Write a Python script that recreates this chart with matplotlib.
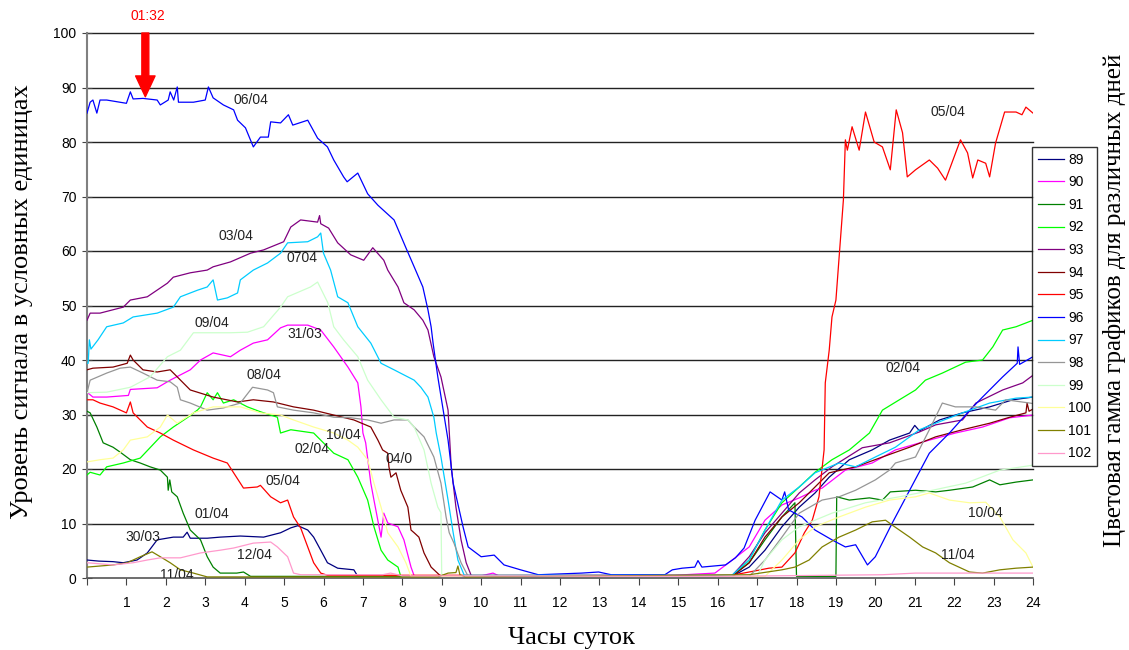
import numpy as np
import matplotlib.pyplot as plt

plt.rcParams['font.family'] = ['Liberation Sans', 'DejaVu Sans']

# (hour, level) points, one list per day series
s89 = [(0, 3.3), (0.3, 3.1), (0.66, 3.0), (0.92, 2.8), (1.27, 3.3), (1.53, 4.6), (1.78, 7.0), (2.19, 7.5),
       (2.44, 7.5), (2.54, 8.4), (2.62, 7.3), (3.05, 7.3), (3.38, 7.5), (3.89, 7.7), (4.48, 7.5), (4.91, 8.3),
       (5.17, 9.2), (5.35, 9.6), (5.6, 8.8), (5.75, 7.5), (5.93, 5.1), (6.1, 2.8), (6.36, 1.8), (6.77, 1.5),
       (6.87, 0.3), (12.0, 0.3), (16.36, 0.3), (16.8, 2.0), (17.2, 5.1), (17.63, 9.4), (18.07, 13.0),
       (18.47, 15.6), (18.83, 18.5), (19.34, 21.7), (19.92, 23.5), (20.36, 25.3), (20.87, 26.6), (21.0, 28.0),
       (21.12, 27.0), (21.63, 29.0), (22.21, 30.3), (22.9, 31.4), (23.49, 32.7), (24.0, 33.2)]
s90 = [(0, 34.1), (0.15, 33.2), (0.5, 33.2), (1.05, 33.5), (1.1, 34.6), (1.78, 34.9), (2.11, 36.3), (2.62, 38.2),
       (2.88, 40.0), (3.2, 41.3), (3.64, 40.6), (3.89, 41.8), (4.22, 43.1), (4.58, 43.7), (4.91, 45.9),
       (5.09, 46.4), (5.6, 46.4), (5.93, 45.5), (6.26, 42.4), (6.62, 38.7), (6.87, 35.8), (6.95, 31.4),
       (7.0, 26.6), (7.07, 24.8), (7.2, 17.4), (7.28, 14.3), (7.46, 7.5), (7.53, 11.9), (7.63, 10.1),
       (7.89, 9.4), (8.04, 7.0), (8.22, 2.0), (8.3, 0.4), (10.0, 0.4), (10.3, 0.9), (10.45, 0.4), (14.9, 0.5),
       (15.93, 0.9), (16.28, 2.8), (16.8, 5.7), (17.2, 10.6), (17.63, 13.4), (18.07, 14.7), (18.47, 16.1),
       (18.65, 16.5), (19.24, 19.8), (19.92, 21.1), (20.51, 23.5), (21.37, 25.3), (22.03, 26.6), (22.72, 27.7),
       (23.41, 29.4), (24.0, 29.9)]
s91 = [(0, 30.6), (0.08, 30.3), (0.25, 27.7), (0.41, 24.8), (0.66, 24.0), (0.84, 23.1), (1.1, 21.7),
       (1.35, 21.1), (1.6, 20.4), (1.86, 19.8), (2.04, 18.5), (2.06, 16.1), (2.1, 18.0), (2.15, 15.8),
       (2.29, 14.9), (2.44, 11.9), (2.62, 8.8), (2.88, 7.0), (3.05, 3.9), (3.2, 2.0), (3.38, 0.9), (3.8, 0.9),
       (3.97, 1.1), (4.15, 0.3), (16.36, 0.3), (16.8, 2.8), (17.2, 7.0), (17.63, 11.2), (17.96, 13.8),
       (18.0, 0.3), (19.0, 0.3), (19.02, 14.9), (19.34, 14.3), (19.85, 14.7), (20.18, 14.3), (20.38, 15.8),
       (21.02, 16.1), (21.53, 15.8), (21.88, 16.1), (22.47, 16.7), (22.9, 18.0), (23.16, 17.1), (23.57, 17.6),
       (24.0, 18.0)]
s92 = [(0, 18.9), (0.08, 19.4), (0.33, 18.9), (0.5, 20.4), (0.92, 21.1), (1.35, 22.0), (1.86, 25.9),
       (2.19, 27.7), (2.54, 29.4), (2.8, 30.8), (2.88, 31.4), (3.05, 34.0), (3.2, 32.7), (3.31, 34.0),
       (3.46, 32.1), (3.72, 32.7), (4.07, 31.4), (4.4, 30.5), (4.83, 29.5), (4.91, 26.6), (5.17, 27.2),
       (5.75, 26.6), (6.26, 22.9), (6.62, 21.7), (6.87, 18.5), (7.12, 14.3), (7.28, 9.4), (7.46, 5.1),
       (7.63, 3.3), (7.89, 2.0), (7.96, 0.3), (16.36, 0.3), (16.8, 3.3), (17.2, 8.8), (17.63, 13.8),
       (18.07, 16.7), (18.47, 19.4), (18.9, 21.7), (19.34, 23.5), (19.85, 26.6), (20.18, 30.8), (20.61, 32.7),
       (21.02, 34.5), (21.27, 36.3), (21.7, 37.6), (22.29, 39.6), (22.72, 40.0), (22.98, 42.4), (23.23, 45.5),
       (23.57, 46.1), (24.0, 47.3)]
s93 = [(0, 47.3), (0.08, 48.6), (0.33, 48.6), (0.92, 49.7), (1.1, 51.0), (1.53, 51.6), (2.04, 54.1),
       (2.19, 55.2), (2.62, 56.0), (3.05, 56.5), (3.2, 57.1), (3.64, 58.0), (4.15, 59.6), (4.48, 60.2),
       (4.99, 61.7), (5.17, 64.4), (5.42, 65.7), (5.85, 65.3), (5.9, 66.5), (5.93, 65.0), (6.13, 64.2),
       (6.36, 61.5), (6.69, 59.3), (7.02, 58.3), (7.25, 60.6), (7.53, 58.3), (7.63, 56.5), (7.89, 53.4),
       (8.04, 50.5), (8.3, 49.2), (8.52, 47.3), (8.65, 45.5), (8.8, 40.6), (8.98, 36.9), (9.16, 30.8),
       (9.24, 20.4), (9.36, 13.0), (9.49, 7.0), (9.62, 2.8), (9.75, 0.4), (16.36, 0.4), (16.8, 3.9),
       (17.2, 8.3), (17.63, 11.9), (18.07, 15.6), (18.47, 18.0), (18.9, 20.4), (19.67, 23.9), (20.36, 24.8),
       (21.12, 26.8), (21.53, 28.1), (22.21, 29.0), (22.55, 32.1), (23.23, 34.5), (23.74, 35.8), (24.0, 37.2)]
s94 = [(0, 38.2), (0.15, 38.5), (0.66, 38.7), (1.02, 39.4), (1.1, 40.9), (1.17, 40.0), (1.42, 38.2),
       (1.78, 37.8), (2.11, 38.2), (2.29, 36.9), (2.62, 34.5), (3.2, 33.2), (3.82, 32.3), (4.22, 32.7),
       (4.73, 32.3), (5.24, 31.4), (5.75, 30.8), (6.26, 29.9), (6.77, 29.0), (7.2, 27.7), (7.38, 25.3),
       (7.5, 23.5), (7.63, 22.9), (7.66, 20.4), (7.71, 18.5), (7.84, 19.3), (7.96, 16.1), (8.14, 13.0),
       (8.22, 8.8), (8.3, 8.3), (8.42, 7.5), (8.55, 4.6), (8.73, 2.0), (8.98, 0.3), (16.36, 0.3), (16.8, 2.8),
       (17.2, 7.5), (17.63, 11.2), (18.07, 13.8), (18.47, 16.7), (18.83, 19.3), (19.5, 20.4), (20.18, 22.2),
       (20.87, 24.0), (21.53, 25.9), (22.21, 27.2), (22.9, 28.4), (23.41, 29.5), (23.82, 30.3), (23.85, 32.1),
       (23.9, 30.6), (24.0, 31.0)]
s95 = [(0, 32.7), (0.15, 32.7), (0.33, 32.1), (0.66, 31.4), (1.0, 30.3), (1.1, 32.3), (1.17, 30.3),
       (1.53, 27.7), (1.86, 26.6), (2.19, 25.3), (2.7, 23.5), (3.2, 22.0), (3.56, 21.1), (3.72, 19.3),
       (3.97, 16.5), (4.32, 16.7), (4.4, 17.0), (4.66, 14.9), (4.91, 13.8), (5.09, 14.3), (5.24, 11.2),
       (5.42, 9.2), (5.6, 5.7), (5.75, 2.8), (5.93, 0.9), (6.1, 0.5), (16.36, 0.5), (16.8, 1.1), (17.3, 1.8),
       (17.63, 2.0), (17.96, 4.6), (18.2, 8.3), (18.4, 10.6), (18.57, 14.9), (18.7, 23.5), (18.73, 35.8),
       (18.83, 41.8), (18.9, 47.9), (19.0, 51.0), (19.19, 69.4), (19.24, 80.4), (19.29, 78.5), (19.41, 82.8),
       (19.59, 78.5), (19.75, 85.5), (19.97, 80.0), (20.18, 79.1), (20.38, 74.9), (20.53, 85.9), (20.69, 81.7),
       (20.81, 73.6), (21.02, 74.9), (21.37, 76.7), (21.58, 75.2), (21.78, 73.0), (22.16, 80.4), (22.34, 78.0),
       (22.47, 73.4), (22.6, 76.7), (22.8, 76.1), (22.9, 73.6), (23.05, 79.8), (23.28, 85.5), (23.57, 85.5),
       (23.72, 85.0), (23.82, 86.4), (24.0, 85.3)]
s96 = [(0, 85.3), (0.08, 87.3), (0.15, 87.7), (0.25, 85.3), (0.33, 87.7), (0.5, 87.7), (1.0, 87.1),
       (1.1, 89.2), (1.17, 87.9), (1.42, 88.0), (1.78, 87.7), (1.86, 86.8), (2.06, 87.7), (2.11, 89.2),
       (2.2, 87.7), (2.29, 90.1), (2.32, 87.3), (2.7, 87.3), (3.0, 87.7), (3.08, 90.1), (3.2, 88.1),
       (3.46, 86.8), (3.72, 85.9), (3.82, 84.0), (4.02, 82.6), (4.22, 79.1), (4.4, 80.9), (4.6, 80.9),
       (4.66, 83.7), (4.91, 83.5), (5.11, 85.0), (5.22, 83.1), (5.6, 84.0), (5.85, 80.7), (6.1, 79.1),
       (6.26, 76.7), (6.51, 73.6), (6.6, 72.7), (6.87, 74.3), (7.12, 70.5), (7.38, 68.4), (7.79, 65.7),
       (8.09, 60.6), (8.3, 57.1), (8.52, 53.4), (8.65, 49.2), (8.73, 46.1), (8.78, 43.1), (8.9, 36.9),
       (9.16, 25.3), (9.29, 17.4), (9.54, 9.4), (9.67, 5.7), (10.0, 3.9), (10.33, 4.2), (10.58, 2.4),
       (11.0, 1.5), (11.45, 0.6), (12.55, 0.9), (12.98, 1.1), (13.3, 0.6), (14.66, 0.6), (14.85, 1.5),
       (15.1, 1.8), (15.42, 2.0), (15.5, 3.2), (15.6, 2.0), (16.2, 2.4), (16.45, 3.7), (16.67, 5.5),
       (16.95, 10.6), (17.33, 15.8), (17.63, 14.3), (17.7, 15.8), (17.8, 12.5), (18.14, 11.2), (18.47, 8.8),
       (18.9, 7.0), (19.24, 5.7), (19.5, 6.1), (19.8, 2.4), (20.0, 3.9), (20.43, 10.1), (20.87, 16.1),
       (21.37, 22.9), (21.88, 26.6), (22.4, 30.8), (22.72, 33.2), (23.23, 36.9), (23.6, 39.4), (23.62, 42.4),
       (23.66, 39.2), (24.0, 40.6)]
s97 = [(0, 39.4), (0.03, 39.4), (0.06, 43.7), (0.1, 42.0), (0.28, 43.7), (0.5, 46.1), (0.92, 46.8),
       (1.17, 47.9), (1.78, 48.6), (2.19, 49.7), (2.37, 51.6), (2.8, 52.8), (3.05, 53.4), (3.2, 54.7),
       (3.31, 51.0), (3.56, 51.4), (3.82, 52.3), (3.89, 54.7), (4.22, 56.5), (4.58, 57.8), (4.91, 59.6),
       (5.09, 61.5), (5.6, 61.7), (5.85, 62.6), (5.93, 63.3), (6.0, 59.6), (6.18, 56.5), (6.36, 51.6),
       (6.62, 50.5), (6.87, 46.1), (7.2, 43.1), (7.46, 39.4), (7.79, 38.2), (8.3, 36.3), (8.47, 35.0),
       (8.65, 33.2), (8.8, 29.5), (8.86, 26.6), (8.98, 22.2), (9.16, 14.3), (9.29, 8.3), (9.41, 3.3),
       (9.57, 0.5), (16.36, 0.5), (16.8, 3.3), (17.2, 8.8), (17.63, 14.3), (18.07, 16.7), (18.47, 19.3),
       (19.08, 21.1), (19.5, 20.4), (20.0, 22.2), (20.51, 24.0), (21.12, 27.2), (21.53, 28.4), (22.21, 30.3),
       (22.9, 32.1), (23.57, 33.0), (24.0, 33.2)]
s98 = [(0, 34.0), (0.08, 36.3), (0.5, 37.6), (0.84, 38.5), (1.1, 38.7), (1.42, 37.6), (1.78, 36.3),
       (2.11, 36.0), (2.29, 35.0), (2.37, 32.7), (2.62, 32.1), (3.05, 30.8), (3.46, 31.2), (3.89, 32.1),
       (4.2, 35.0), (4.58, 34.5), (4.73, 34.0), (4.83, 31.4), (5.24, 30.8), (5.75, 30.3), (6.26, 29.5),
       (6.69, 29.4), (7.12, 29.0), (7.46, 28.4), (7.79, 29.0), (8.14, 29.0), (8.3, 27.7), (8.55, 25.9),
       (8.8, 22.2), (8.98, 17.4), (9.11, 11.2), (9.19, 8.3), (9.31, 6.4), (9.49, 2.8), (9.67, 0.3), (16.8, 0.3),
       (17.2, 3.3), (17.63, 7.5), (18.07, 11.9), (18.65, 14.3), (19.08, 14.9), (19.5, 16.1), (20.0, 18.0),
       (20.36, 19.8), (20.51, 21.1), (21.02, 22.2), (21.37, 27.2), (21.7, 32.1), (22.03, 31.4), (22.55, 31.4),
       (23.05, 30.8), (23.31, 32.7), (23.92, 32.1), (24.0, 32.0)]
s99 = [(0, 34.0), (0.5, 34.1), (1.1, 35.0), (1.6, 36.9), (2.04, 40.6), (2.37, 41.8), (2.7, 45.0), (3.2, 45.0),
       (3.64, 45.0), (4.07, 45.1), (4.48, 46.1), (4.91, 49.7), (5.09, 51.6), (5.67, 53.4), (5.85, 54.3),
       (6.11, 50.5), (6.26, 46.1), (6.51, 43.7), (6.87, 40.6), (7.12, 36.3), (7.46, 32.7), (7.79, 29.5),
       (8.14, 29.0), (8.3, 27.7), (8.55, 23.5), (8.73, 17.4), (8.9, 13.0), (8.98, 12.0), (9.0, 0.3), (17.0, 0.3),
       (17.2, 3.3), (17.63, 7.0), (18.07, 9.4), (18.9, 11.9), (19.75, 13.8), (20.61, 14.9), (21.45, 16.1),
       (22.29, 17.4), (23.16, 19.8), (24.0, 20.7)]
s100 = [(0, 21.3), (0.33, 21.7), (0.66, 22.0), (0.92, 23.5), (1.1, 25.3), (1.53, 25.9), (1.86, 27.7),
        (2.04, 29.9), (2.29, 28.4), (2.7, 30.3), (3.2, 31.4), (3.46, 31.4), (3.89, 31.4), (4.4, 30.3),
        (4.91, 29.9), (5.24, 29.0), (5.75, 27.7), (6.26, 26.6), (6.62, 25.3), (6.87, 24.0), (7.12, 21.7),
        (7.28, 17.4), (7.46, 13.0), (7.63, 8.3), (7.89, 5.7), (8.09, 2.8), (8.22, 0.3), (17.2, 0.3),
        (17.63, 3.3), (18.07, 7.0), (18.47, 9.4), (19.08, 11.2), (19.75, 13.0), (20.36, 14.3), (21.02, 14.9),
        (21.37, 15.6), (21.88, 14.3), (22.39, 13.8), (22.8, 13.9), (23.16, 11.2), (23.49, 7.0), (23.82, 4.6),
        (24.0, 2.0)]
s101 = [(0, 2.0), (0.66, 2.4), (1.02, 2.8), (1.35, 3.9), (1.65, 4.8), (1.86, 3.9), (2.11, 2.8), (2.37, 1.5),
        (2.7, 0.9), (3.05, 0.2), (8.9, 0.2), (9.16, 0.9), (9.36, 1.0), (9.41, 2.2), (9.46, 0.6), (9.6, 0.2),
        (16.8, 0.6), (17.63, 1.5), (17.96, 2.0), (18.32, 3.3), (18.65, 5.7), (19.08, 7.5), (19.5, 8.8),
        (19.92, 10.3), (20.26, 10.6), (20.43, 9.7), (20.87, 7.5), (21.2, 5.7), (21.53, 4.6), (21.88, 2.8),
        (22.39, 1.1), (22.72, 0.9), (23.16, 1.5), (23.57, 1.8), (24.0, 2.0)]
s102 = [(0, 2.8), (0.66, 2.4), (1.17, 2.8), (1.53, 3.3), (1.86, 3.7), (2.37, 3.7), (2.88, 4.6), (3.38, 5.1),
        (3.72, 5.5), (4.22, 6.4), (4.66, 6.6), (4.83, 5.7), (5.09, 3.9), (5.24, 0.9), (5.42, 0.6), (7.5, 0.6),
        (7.7, 0.9), (8.0, 0.4), (16.0, 0.3), (20.18, 0.6), (21.02, 0.9), (22.0, 0.9), (24.0, 0.9)]

series_names = ['89', '90', '91', '92', '93', '94', '95', '96', '97', '98', '99', '100', '101', '102']
series_data = [s89, s90, s91, s92, s93, s94, s95, s96, s97, s98, s99, s100, s101, s102]
series_colors = ['#000080', '#FF00FF', '#008000', '#00FF00', '#800080', '#800000', '#FF0000',
                 '#0000FF', '#00CCFF', '#969696', '#CCFFCC', '#FFFF99', '#808000', '#FF99CC']

# day labels written on the chart
day_labels = ['06/04', '05/04', '03/04', '0704', '09/04', '31/03', '08/04', '10/04', '02/04', '04/0',
              '05/04', '01/04', '30/03', '12/04', '11/04', '02/04', '10/04', '11/04']
day_x = [4.15, 21.83, 3.77, 5.45, 3.16, 5.52, 4.48, 6.51, 5.7, 7.91, 4.96, 3.16, 1.42, 4.25, 2.29, 20.69, 22.8, 22.09]
day_y = [87.7, 85.5, 62.8, 58.7, 46.8, 44.8, 37.2, 26.2, 23.7, 21.8, 17.8, 11.7, 7.5, 4.2, 0.6, 38.5, 11.9, 4.2]

mark_time = '01:32'
mark_x = 1.48

fig = plt.figure(figsize=(11.29, 6.5), dpi=100)
ax = fig.add_axes([87 / 1129, 1 - 578 / 650, (1033 - 87) / 1129, (578 - 33) / 650])

for name, pts, col in zip(series_names, series_data, series_colors):
    h, v = np.array(pts).T
    ax.plot(h, v, color=col, lw=0.9, label=name, zorder=3)

ax.set_xlim(0, 24)
ax.set_ylim(0, 100)
ax.set_yticks(np.arange(0, 101, 10))
ax.set_xticks(np.arange(0, 25, 1))
ax.set_xticklabels([''] + [str(i) for i in range(1, 25)])
for y in range(10, 101, 10):
    ax.axhline(y, color='#222222', lw=1.0, zorder=1, clip_on=False)

for side in ['top', 'right']:
    ax.spines[side].set_visible(False)
ax.spines['left'].set_color('#808080')
ax.spines['left'].set_linewidth(1.5)
ax.spines['bottom'].set_color('#555555')
ax.spines['bottom'].set_linewidth(1.2)
ax.tick_params(axis='y', direction='inout', length=7, color='#444444', labelsize=10, pad=4)
ax.tick_params(axis='x', direction='out', length=5, color='#444444', labelsize=10, pad=8)

for t, x, y in zip(day_labels, day_x, day_y):
    ax.text(x, y, t, ha='center', va='center', fontsize=10, color='#222222', zorder=4, clip_on=True)

ax.annotate('', xy=(mark_x, 88.3), xytext=(mark_x, 100), annotation_clip=False,
            arrowprops=dict(facecolor='#FF0000', edgecolor='#FF0000', width=5, headwidth=14,
                            headlength=15, shrink=0))
ax.text(mark_x + 0.07, 103.2, mark_time, color='#FF0000', fontsize=10, ha='center', va='center',
        clip_on=False)

serif = ['Liberation Serif', 'DejaVu Serif']
fig.text(22 / 1129, 1 - 302 / 650, 'Уровень сигнала в условных единицах', rotation=90,
         ha='center', va='center', fontsize=19, family=serif)
fig.text(572 / 1129, 1 - 638 / 650, 'Часы суток', ha='center', va='center', fontsize=19, family=serif)
fig.text(1115 / 1129, 1 - 300 / 650, 'Цветовая гамма графиков для различных дней', rotation=90,
         ha='center', va='center', fontsize=18, family=serif)

leg = ax.legend(loc='upper left', bbox_to_anchor=(1032 / 1129, 1 - 147 / 650), bbox_transform=fig.transFigure,
                borderaxespad=0, fontsize=10, frameon=True, fancybox=False, handlelength=1.9,
                handletextpad=0.3, labelspacing=0.62, borderpad=0.4)
leg.get_frame().set_edgecolor('#000000')
leg.get_frame().set_linewidth(1.0)

fig.savefig('out.png', dpi=100)
